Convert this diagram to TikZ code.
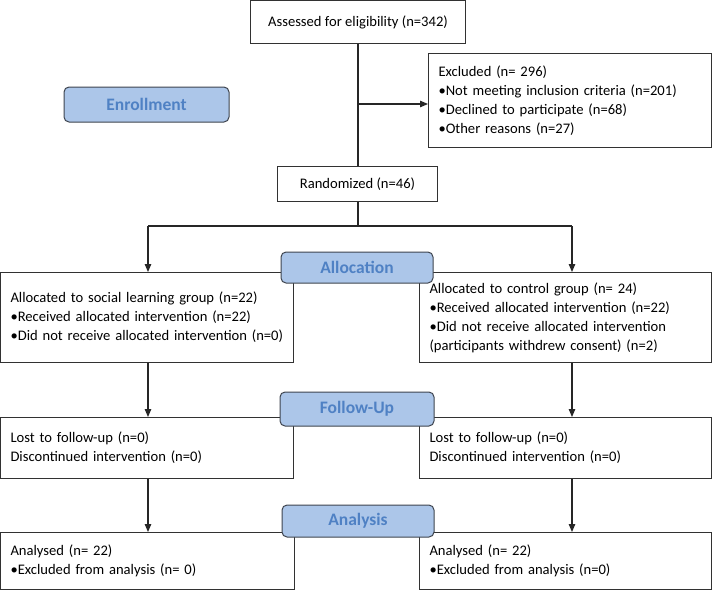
\documentclass[tikz,border=0pt]{standalone}
\usepackage{fontspec}
\setmainfont{Carlito}
\usetikzlibrary{arrows.meta}
\definecolor{lblfill}{RGB}{172,198,233}
\definecolor{lbltext}{RGB}{79,129,196}
\definecolor{lbldraw}{RGB}{62,68,78}
\definecolor{boxdraw}{RGB}{50,50,50}
\begin{document}
\begin{tikzpicture}[x=1pt,y=-1pt,
  box/.style={draw=boxdraw, line width=1pt, fill=white, anchor=north west, inner ysep=0pt,
    font=\fontsize{14.6}{19}\selectfont},
  lbox/.style={box, inner xsep=10pt, align=left},
  cbox/.style={box, align=center},
  phase/.style={draw=lbldraw, line width=1pt, fill=lblfill, rounded corners=5pt,
    text=lbltext, font=\fontsize{17.5}{19}\selectfont\bfseries, inner sep=0pt},
  conn/.style={line width=1.2pt, draw=black!85},
  arr/.style={conn, -{Triangle[length=8pt,width=6.5pt]}}]
\useasboundingbox (0,0) rectangle (712,590);
% boxes
\node[cbox, minimum width=215pt, minimum height=43pt] (assess) at (250,0) {Assessed for eligibility (n=342)};
\node[lbox, text width=263pt, minimum height=94pt] (excl) at (428,53)
  {Excluded (n= 296)\\\textbullet Not meeting inclusion criteria (n=201)\\\textbullet Declined to participate (n=68)\\\textbullet Other reasons (n=27)};
\node[cbox, minimum width=160pt, minimum height=35pt] (rand) at (277,166) {Randomized (n=46)};
\node[lbox, text width=273pt, minimum height=90pt] (allocL) at (0,272)
  {Allocated to social learning group (n=22)\\\textbullet Received allocated intervention (n=22)\\\textbullet Did not receive allocated intervention (n=0)\\[4pt]};
\node[lbox, text width=272pt, minimum height=90pt] (allocR) at (419,272)
  {Allocated to control group (n= 24)\\\textbullet Received allocated intervention (n=22)\\\textbullet Did not receive allocated intervention\\(participants withdrew consent) (n=2)};
\node[lbox, text width=273pt, minimum height=61pt] (followL) at (0,417)
  {Lost to follow-up (n=0)\\Discontinued intervention (n=0)};
\node[lbox, text width=272pt, minimum height=61pt] (followR) at (419,417)
  {Lost to follow-up (n=0)\\Discontinued intervention (n=0)};
\node[lbox, text width=274pt, minimum height=57pt] (analL) at (0,532)
  {Analysed (n= 22)\\\textbullet Excluded from analysis (n= 0)};
\node[lbox, text width=272pt, minimum height=57pt] (analR) at (419,532)
  {Analysed (n= 22)\\\textbullet Excluded from analysis (n=0)};
% phase labels
\node[phase, minimum width=165pt, minimum height=35pt] (enr) at (146.5,104.5) {Enrollment};
\node[phase, minimum width=152pt, minimum height=31pt] (alloc) at (357,267.5) {Allocation};
\node[phase, minimum width=154pt, minimum height=34pt] (fu) at (357,409) {Follow-Up};
\node[phase, minimum width=152pt, minimum height=32pt] (an) at (358,521) {Analysis};
% connectors
\coordinate (br) at (358,104);
\coordinate (split) at (358,226);
\coordinate (sl) at (148,226);
\coordinate (sr) at (572,226);
\draw[conn] (assess.south -| br) -- (rand.north -| br);
\draw[arr] (br) -- (br -| excl.west);
\draw[conn] (rand.south -| split) -- (split);
\draw[conn] (sl) -- (sr);
\draw[arr] (sl) -- (sl |- allocL.north);
\draw[arr] (sr) -- (sr |- allocR.north);
\draw[arr] (sl |- allocL.south) -- (sl |- followL.north);
\draw[arr] (sr |- allocR.south) -- (sr |- followR.north);
\draw[arr] (sl |- followL.south) -- (sl |- analL.north);
\draw[arr] (sr |- followR.south) -- (sr |- analR.north);
\end{tikzpicture}
\end{document}
